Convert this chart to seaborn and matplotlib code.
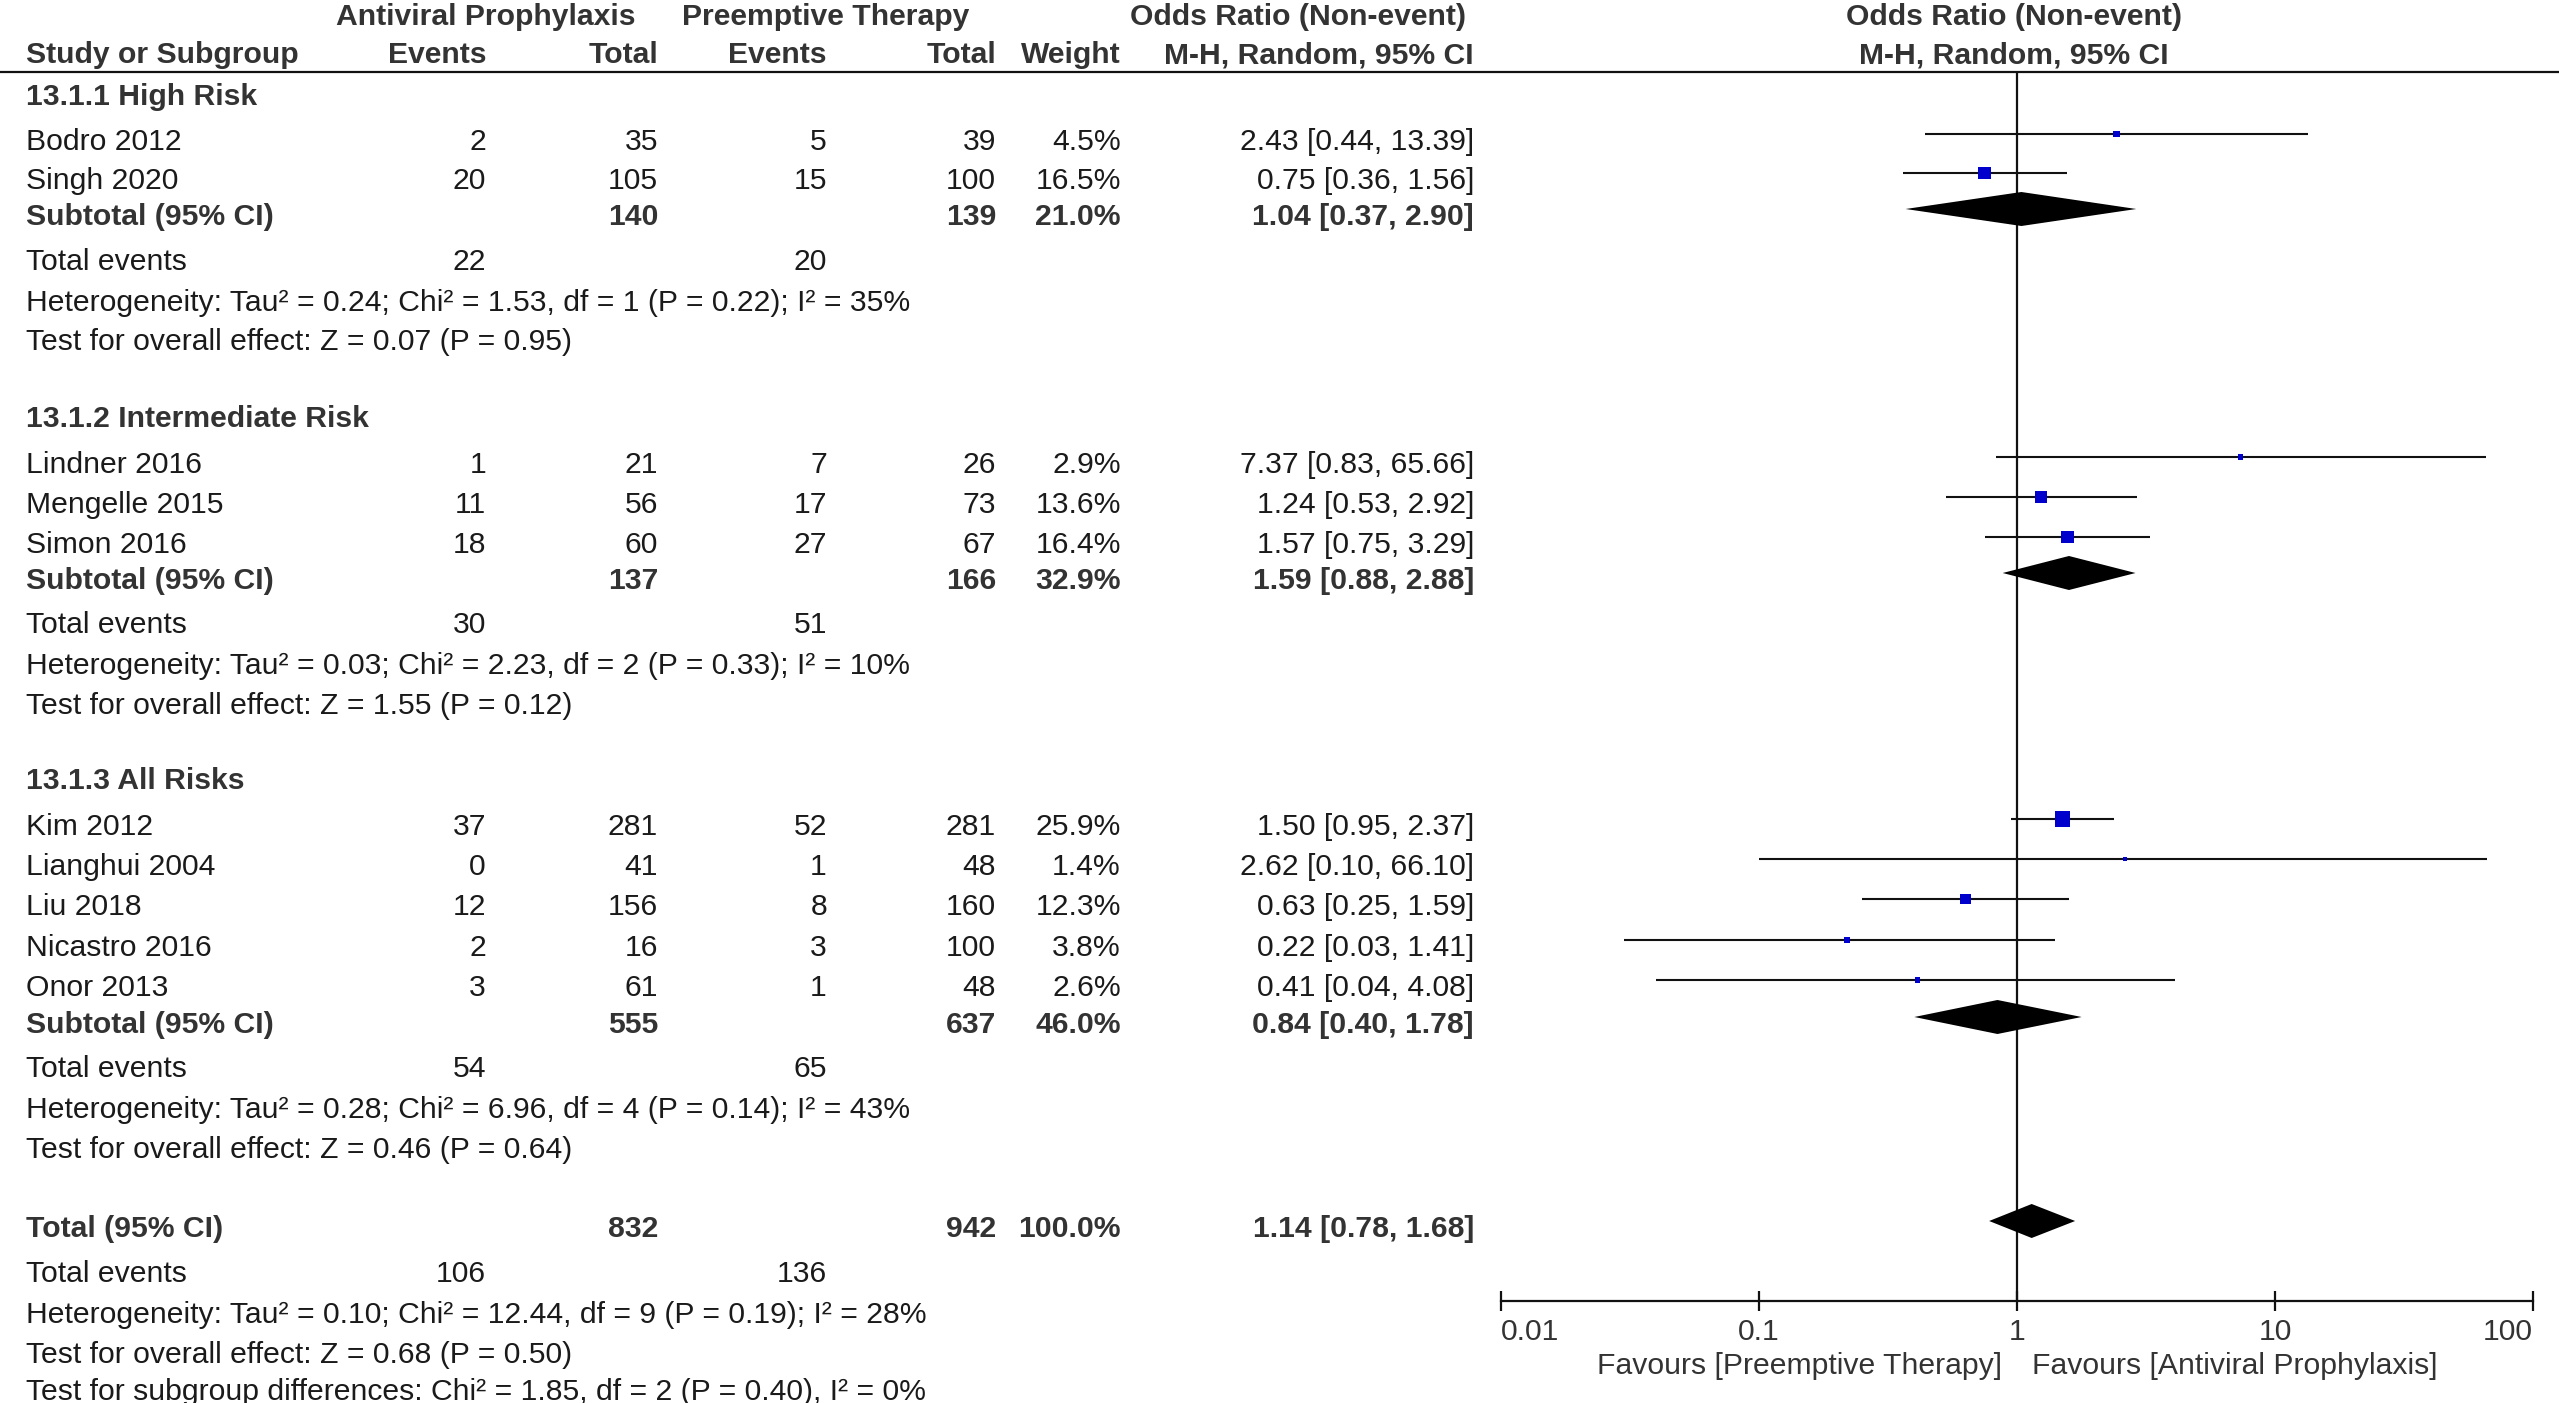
import matplotlib
matplotlib.use("Agg")
import matplotlib.pyplot as plt
import numpy as np
import pandas as pd
import seaborn as sns

# ---------------- data ----------------
studies = ["Bodro 2012", "Singh 2020", "Lindner 2016", "Mengelle 2015", "Simon 2016",
           "Kim 2012", "Lianghui 2004", "Liu 2018", "Nicastro 2016", "Onor 2013"]
ap_events = [2, 20, 1, 11, 18, 37, 0, 12, 2, 3]
ap_total = [35, 105, 21, 56, 60, 281, 41, 156, 16, 61]
pt_events = [5, 15, 7, 17, 27, 52, 1, 8, 3, 1]
pt_total = [39, 100, 26, 73, 67, 281, 48, 160, 100, 48]
weights = [4.5, 16.5, 2.9, 13.6, 16.4, 25.9, 1.4, 12.3, 3.8, 2.6]
odds = [2.43, 0.75, 7.37, 1.24, 1.57, 1.50, 2.62, 0.63, 0.22, 0.41]
ci_lo = [0.44, 0.36, 0.83, 0.53, 0.75, 0.95, 0.10, 0.25, 0.03, 0.04]
ci_hi = [13.39, 1.56, 65.66, 2.92, 3.29, 2.37, 66.10, 1.59, 1.41, 4.08]

sub_names = ["13.1.1 High Risk", "13.1.2 Intermediate Risk", "13.1.3 All Risks"]
sub_ap_total = [140, 137, 555]
sub_pt_total = [139, 166, 637]
sub_weight = [21.0, 32.9, 46.0]
sub_or = [1.04, 1.59, 0.84]
sub_lo = [0.37, 0.88, 0.40]
sub_hi = [2.90, 2.88, 1.78]
sub_ap_events = [22, 30, 54]
sub_pt_events = [20, 51, 65]
sub_het = ["Heterogeneity: Tau² = 0.24; Chi² = 1.53, df = 1 (P = 0.22); I² = 35%",
           "Heterogeneity: Tau² = 0.03; Chi² = 2.23, df = 2 (P = 0.33); I² = 10%",
           "Heterogeneity: Tau² = 0.28; Chi² = 6.96, df = 4 (P = 0.14); I² = 43%"]
sub_test = ["Test for overall effect: Z = 0.07 (P = 0.95)",
            "Test for overall effect: Z = 1.55 (P = 0.12)",
            "Test for overall effect: Z = 0.46 (P = 0.64)"]

tot_ap_total = 832
tot_pt_total = 942
tot_weight = 100.0
tot_or = 1.14
tot_lo = 0.78
tot_hi = 1.68
tot_ap_events = 106
tot_pt_events = 136
tot_het = "Heterogeneity: Tau² = 0.10; Chi² = 12.44, df = 9 (P = 0.19); I² = 28%"
tot_test = "Test for overall effect: Z = 0.68 (P = 0.50)"
tot_sub = "Test for subgroup differences: Chi² = 1.85, df = 2 (P = 0.40), I² = 0%"

tick_vals = [0.01, 0.1, 1, 10, 100]
tick_labels = ["0.01", "0.1", "1", "10", "100"]
favours_left = "Favours [Preemptive Therapy]"
favours_right = "Favours [Antiviral Prophylaxis]"

# ---------------- layout (pixel rows) ----------------
W, H = 2559, 1403
sec_header_y = [94, 416, 778]
study_y = [139, 178, 462, 502, 542, 824, 864, 904, 945, 985]
sub_y = [214, 578, 1022]
te_y = [259, 622, 1066]
het_y = [300, 663, 1107]
test_y = [339, 703, 1147]
total_y, tot_te_y, tot_het_y, tot_test_y, tot_sub_y = 1226, 1271, 1312, 1352, 1389

x_name = 26
x_ape, x_apt, x_pte, x_ptt, x_w, x_ci = 486, 658, 827, 996, 1121, 1474
x_f0, x_f1 = 1501, 2533
y_line, y_axis = 72, 1301

sns.set_style("white")
plt.rcParams["font.family"] = ["Liberation Sans", "DejaVu Sans"]
FS = 21.7
REG = "#1a1a1a"
BOLD = "#333333"

fig = plt.figure(figsize=(W / 100, H / 100), dpi=100)
ax_t = fig.add_axes([0, 0, 1, 1])
ax_t.set_xlim(0, W)
ax_t.set_ylim(H, 0)
ax_t.axis("off")

OFF = 11  # baseline offset from cap centre


def txt(x, y, s, ha="left", bold=False, color=None):
    ax_t.text(x, y + OFF, s, ha=ha, va="baseline", fontsize=FS,
              fontweight="bold" if bold else "normal",
              color=color or (BOLD if bold else REG))


def ci_str(o, l, h):
    return f"{o:.2f} [{l:.2f}, {h:.2f}]"


# headers
txt(486, 14, "Antiviral Prophylaxis", ha="center", bold=True)
txt(826, 14, "Preemptive Therapy", ha="center", bold=True)
txt(1298, 14, "Odds Ratio (Non-event)", ha="center", bold=True)
txt(2014, 14, "Odds Ratio (Non-event)", ha="center", bold=True)
txt(x_name, 52, "Study or Subgroup", bold=True)
txt(x_ape, 52, "Events", ha="right", bold=True)
txt(x_apt, 52, "Total", ha="right", bold=True)
txt(x_pte, 52, "Events", ha="right", bold=True)
txt(x_ptt, 52, "Total", ha="right", bold=True)
txt(x_w, 52, "Weight", ha="right", bold=True)
txt(x_ci, 52, "M-H, Random, 95% CI", ha="right", bold=True)
txt(2014, 52, "M-H, Random, 95% CI", ha="center", bold=True)
ax_t.plot([0, W], [y_line, y_line], color="#111111", lw=1.6, solid_capstyle="butt")

# study rows
for i, s in enumerate(studies):
    y = study_y[i]
    txt(x_name, y, s)
    txt(x_ape, y, str(ap_events[i]), ha="right")
    txt(x_apt, y, str(ap_total[i]), ha="right")
    txt(x_pte, y, str(pt_events[i]), ha="right")
    txt(x_ptt, y, str(pt_total[i]), ha="right")
    txt(x_w, y, f"{weights[i]:.1f}%", ha="right")
    txt(x_ci, y, ci_str(odds[i], ci_lo[i], ci_hi[i]), ha="right")

# subgroup rows
for g in range(3):
    txt(x_name, sec_header_y[g], sub_names[g], bold=True)
    y = sub_y[g]
    txt(x_name, y, "Subtotal (95% CI)", bold=True)
    txt(x_apt, y, str(sub_ap_total[g]), ha="right", bold=True)
    txt(x_ptt, y, str(sub_pt_total[g]), ha="right", bold=True)
    txt(x_w, y, f"{sub_weight[g]:.1f}%", ha="right", bold=True)
    txt(x_ci, y, ci_str(sub_or[g], sub_lo[g], sub_hi[g]), ha="right", bold=True)
    txt(x_name, te_y[g], "Total events")
    txt(x_ape, te_y[g], str(sub_ap_events[g]), ha="right")
    txt(x_pte, te_y[g], str(sub_pt_events[g]), ha="right")
    txt(x_name, het_y[g], sub_het[g])
    txt(x_name, test_y[g], sub_test[g])

# overall
txt(x_name, total_y, "Total (95% CI)", bold=True)
txt(x_apt, total_y, str(tot_ap_total), ha="right", bold=True)
txt(x_ptt, total_y, str(tot_pt_total), ha="right", bold=True)
txt(x_w, total_y, f"{tot_weight:.1f}%", ha="right", bold=True)
txt(x_ci, total_y, ci_str(tot_or, tot_lo, tot_hi), ha="right", bold=True)
txt(x_name, tot_te_y, "Total events")
txt(x_ape, tot_te_y, str(tot_ap_events), ha="right")
txt(x_pte, tot_te_y, str(tot_pt_events), ha="right")
txt(x_name, tot_het_y, tot_het)
txt(x_name, tot_test_y, tot_test)
txt(x_name, tot_sub_y, tot_sub)

txt(2002, 1363, favours_left, ha="right", color="#333333")
txt(2032, 1363, favours_right, ha="left", color="#333333")

# ---------------- forest panel ----------------
ax_f = fig.add_axes([x_f0 / W, (H - y_axis) / H, (x_f1 - x_f0) / W, (y_axis - y_line) / H])
ax_f.set_xscale("log")
ax_f.set_xlim(0.01, 100)
ax_f.set_ylim(y_axis + 5, y_line + 5)
ax_f.patch.set_alpha(0)
for side in ["top", "left", "right"]:
    ax_f.spines[side].set_visible(False)
ax_f.spines["bottom"].set_linewidth(1.6)
ax_f.spines["bottom"].set_color("#111111")
ax_f.set_yticks([])
ax_f.xaxis.set_minor_locator(matplotlib.ticker.NullLocator())
ax_f.set_xticks(tick_vals)
ax_f.set_xticklabels(tick_labels)
ax_f.tick_params(axis="x", direction="inout", length=15, width=1.6, pad=5,
                 labelsize=FS, colors="#111111", labelcolor="#333333", bottom=True)
lbls = ax_f.get_xticklabels()
lbls[0].set_horizontalalignment("left")
lbls[-1].set_horizontalalignment("right")

ax_f.axvline(1, color="#111111", lw=1.6, zorder=1)

df = pd.DataFrame({"study": studies, "y": study_y, "or": odds, "lo": ci_lo,
                   "hi": ci_hi, "w": weights})
ax_f.hlines(df["y"], df["lo"], df["hi"], color="#111111", lw=1.5, zorder=2)
sns.scatterplot(data=df, x="or", y="y", size="w",
                sizes=(5.0 * min(weights), 5.0 * max(weights)),
                marker="s", color="#0000CC", linewidth=0, legend=False,
                ax=ax_f, zorder=3)
ax_f.set_xlabel("")
ax_f.set_ylabel("")

half = 17
for o, l, h, y in list(zip(sub_or, sub_lo, sub_hi, sub_y)) + [(tot_or, tot_lo, tot_hi, total_y)]:
    ax_f.fill([l, o, h, o], [y, y - half, y, y + half], color="black", lw=0, zorder=3)

fig.savefig("out.png", dpi=100)
